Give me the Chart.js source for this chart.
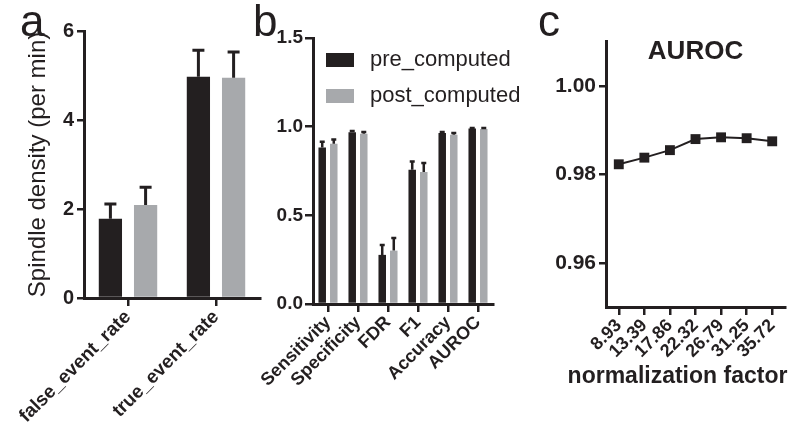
<!DOCTYPE html>
<html>
<head>
<meta charset="utf-8">
<script src="https://cdn.jsdelivr.net/npm/chart.js@4.4.1/dist/chart.umd.min.js"></script>
<style>
  body { margin: 0; background: #fff; }
  #fig { position: relative; width: 800px; height: 443px; overflow: hidden; font-family: "Liberation Sans", Arial, sans-serif; color: #231f20; }
  #fig canvas { position: absolute; top: 0; }
  .panel { position: absolute; top: -1px; font-size: 44px; line-height: 1; }
</style>
</head>
<body>
<div id="fig">
  <canvas id="chartA" width="270" height="443" style="left:0px"></canvas>
  <canvas id="chartB" width="300" height="443" style="left:250px"></canvas>
  <canvas id="chartC" width="260" height="443" style="left:540px"></canvas>
  <div class="panel" style="left:20px">a</div>
  <div class="panel" style="left:253px">b</div>
  <div class="panel" style="left:538px">c</div>
</div>
<script>
// panel a: spindle density
const rateCategories = ["false_event_rate", "true_event_rate"];
const ratePre = [1.78, 4.97];
const ratePreErr = [0.33, 0.60];
const ratePost = [2.09, 4.95];
const ratePostErr = [0.40, 0.58];

// panel b: detection metrics
const metricCategories = ["Sensitivity", "Specificity", "FDR", "F1", "Accuracy", "AUROC"];
const metricPre = [0.883, 0.968, 0.277, 0.757, 0.964, 0.990];
const metricPreErr = [0.032, 0.007, 0.056, 0.047, 0.006, 0.003];
const metricPost = [0.904, 0.960, 0.301, 0.744, 0.955, 0.987];
const metricPostErr = [0.023, 0.010, 0.071, 0.051, 0.009, 0.005];

// panel c: AUROC vs normalization factor
const normFactors = ["8.93", "13.39", "17.86", "22.32", "26.79", "31.25", "35.72"];
const aurocValues = [0.9823, 0.9838, 0.9855, 0.9880, 0.9884, 0.9882, 0.9875];
const aurocTicks = [0.96, 0.98, 1.00];

const DARK = "#231f20";
const GREY = "#a7a9ac";
const FONT = "'Liberation Sans', Arial, sans-serif";

// error bars drawn above each bar (value + err)
const errorBars = {
  id: "errorBars",
  afterDatasetsDraw(chart, args, opts) {
    const ctx = chart.ctx;
    const yScale = chart.scales.y;
    ctx.save();
    ctx.strokeStyle = opts.color;
    ctx.lineWidth = opts.lineWidth;
    chart.data.datasets.forEach((ds, i) => {
      if (!ds.errors) return;
      const meta = chart.getDatasetMeta(i);
      meta.data.forEach((bar, j) => {
        const top = yScale.getPixelForValue(ds.data[j] + ds.errors[j]);
        ctx.beginPath();
        ctx.moveTo(bar.x, bar.y);
        ctx.lineTo(bar.x, top);
        ctx.moveTo(bar.x - opts.capWidth / 2, top);
        ctx.lineTo(bar.x + opts.capWidth / 2, top);
        ctx.stroke();
      });
    });
    ctx.restore();
  }
};

// legend boxes inside the plot area (panel b)
const boxLegend = {
  id: "boxLegend",
  afterDraw(chart, args, opts) {
    const { ctx, chartArea } = chart;
    ctx.save();
    ctx.font = opts.font;
    ctx.textBaseline = "middle";
    chart.data.datasets.forEach((ds, i) => {
      const x = chartArea.left + opts.left;
      const y = chartArea.top + opts.top + i * opts.rowGap;
      ctx.fillStyle = ds.backgroundColor;
      ctx.fillRect(x, y, opts.boxWidth, opts.boxHeight);
      ctx.fillStyle = opts.color;
      ctx.fillText(ds.label, x + opts.boxWidth + opts.gap, y + opts.boxHeight / 2);
    });
    ctx.restore();
  }
};

// loose text placed relative to the plot area centre (panel c)
const freeText = {
  id: "freeText",
  afterDraw(chart, args, opts) {
    const { ctx, chartArea } = chart;
    const cx = (chartArea.left + chartArea.right) / 2;
    ctx.save();
    ctx.fillStyle = opts.color;
    ctx.textAlign = "center";
    ctx.textBaseline = "middle";
    opts.items.forEach(it => {
      ctx.font = it.font;
      ctx.fillText(it.text, cx + it.dx, it.y);
    });
    ctx.restore();
  }
};

function axisGrid(len) {
  return {
    drawOnChartArea: false, drawTicks: true, offset: false,
    color: DARK, lineWidth: 2.5, tickLength: len, tickColor: DARK, tickWidth: 2.5
  };
}
const axisBorder = { display: true, color: DARK, width: 3 };

// fixed axis sizes so the plot areas line up with the figure
function fixX(h) {
  return s => { s.height = h; s.paddingLeft = 0; s.paddingRight = 0; };
}
function fixY(w) {
  return s => { s.width = w; s.paddingTop = 0; s.paddingBottom = 0; };
}

// a
new Chart(document.getElementById("chartA"), {
  type: "bar",
  data: {
    labels: rateCategories,
    datasets: [
      { label: "pre_computed", data: ratePre, errors: ratePreErr, backgroundColor: DARK },
      { label: "post_computed", data: ratePost, errors: ratePostErr, backgroundColor: GREY }
    ]
  },
  options: {
    responsive: false,
    animation: false,
    layout: { padding: { left: 0, right: 10, top: 31, bottom: 0 } },
    datasets: { bar: { categoryPercentage: 0.8, barPercentage: 0.66 } },
    plugins: {
      legend: { display: false },
      tooltip: { enabled: false },
      errorBars: { color: DARK, lineWidth: 3, capWidth: 12 }
    },
    scales: {
      x: {
        grid: axisGrid(8),
        border: axisBorder,
        ticks: { color: DARK, font: { family: FONT, size: 19, weight: "bold" }, minRotation: 45, maxRotation: 45, autoSkip: false, padding: 0 },
        afterFit: fixX(145)
      },
      y: {
        min: 0,
        max: 6,
        grid: axisGrid(7),
        border: axisBorder,
        ticks: { stepSize: 2, color: DARK, font: { family: FONT, size: 20, weight: "bold" }, padding: 3 },
        title: { display: true, text: "Spindle density (per min)", color: DARK, font: { family: FONT, size: 24 }, padding: { top: 24, bottom: 0 } },
        afterFit: fixY(84)
      }
    }
  },
  plugins: [errorBars]
});

// b
new Chart(document.getElementById("chartB"), {
  type: "bar",
  data: {
    labels: metricCategories,
    datasets: [
      { label: "pre_computed", data: metricPre, errors: metricPreErr, backgroundColor: DARK },
      { label: "post_computed", data: metricPost, errors: metricPostErr, backgroundColor: GREY }
    ]
  },
  options: {
    responsive: false,
    animation: false,
    layout: { padding: { left: 0, right: 57, top: 38, bottom: 0 } },
    datasets: { bar: { categoryPercentage: 0.77, barPercentage: 0.65 } },
    plugins: {
      legend: { display: false },
      tooltip: { enabled: false },
      errorBars: { color: DARK, lineWidth: 2.5, capWidth: 5 },
      boxLegend: { left: 13, top: 15, rowGap: 36, boxWidth: 28, boxHeight: 14, gap: 16, color: DARK, font: "22px " + FONT }
    },
    scales: {
      x: {
        grid: axisGrid(8),
        border: axisBorder,
        ticks: { color: DARK, font: { family: FONT, size: 18, weight: "bold" }, minRotation: 45, maxRotation: 45, autoSkip: false, padding: 0 },
        afterFit: fixX(139)
      },
      y: {
        min: 0,
        max: 1.5,
        grid: axisGrid(8),
        border: axisBorder,
        ticks: { stepSize: 0.5, color: DARK, font: { family: FONT, size: 19, weight: "bold" }, padding: 2, callback: v => v.toFixed(1) },
        afterFit: fixY(63)
      }
    }
  },
  plugins: [errorBars, boxLegend]
});

// c
new Chart(document.getElementById("chartC"), {
  type: "line",
  data: {
    labels: normFactors,
    datasets: [{
      label: "AUROC",
      data: aurocValues,
      borderColor: DARK,
      borderWidth: 2,
      backgroundColor: DARK,
      pointStyle: "rect",
      pointRadius: 7,
      pointBackgroundColor: DARK,
      pointBorderWidth: 0,
      tension: 0
    }]
  },
  options: {
    responsive: false,
    animation: false,
    layout: { padding: { left: 0, right: 15, top: 41, bottom: 0 } },
    plugins: {
      legend: { display: false },
      tooltip: { enabled: false },
      freeText: {
        color: DARK,
        items: [
          { text: "AUROC", dx: 0, y: 52, font: "bold 26px " + FONT },
          { text: "normalization factor", dx: -18, y: 377, font: "bold 23px " + FONT }
        ]
      }
    },
    scales: {
      x: {
        offset: true,
        grid: axisGrid(8),
        border: axisBorder,
        ticks: { color: DARK, font: { family: FONT, size: 18, weight: "bold" }, minRotation: 45, maxRotation: 45, autoSkip: false, padding: 0 },
        afterFit: fixX(136)
      },
      y: {
        min: 0.95,
        max: 1.0102,
        grid: axisGrid(7),
        border: axisBorder,
        afterBuildTicks: s => { s.ticks = aurocTicks.map(v => ({ value: v })); },
        ticks: { color: DARK, font: { family: FONT, size: 21, weight: "bold" }, padding: 3, callback: v => Number(v).toFixed(2) },
        afterFit: fixY(66)
      }
    }
  },
  plugins: [freeText]
});
</script>
</body>
</html>
